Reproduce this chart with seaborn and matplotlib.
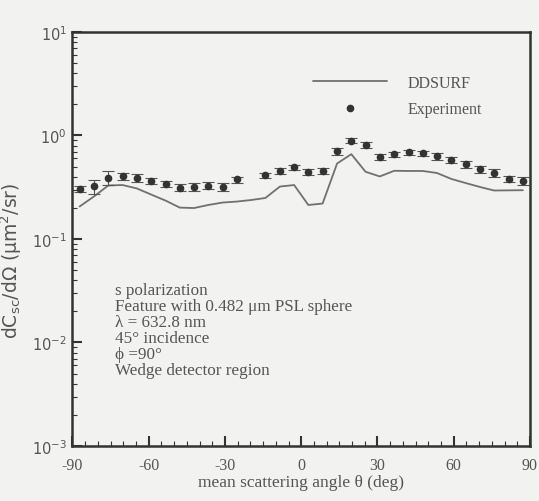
import numpy as np
import matplotlib
matplotlib.use("Agg")
import matplotlib.pyplot as plt
import seaborn as sns
from matplotlib.lines import Line2D
from matplotlib.ticker import MultipleLocator, LogLocator, NullFormatter

# Experiment: mean scattering angle (deg) and dC/dOmega (um^2/sr)
exp_angle = [-87.2, -81.6, -75.9, -70.3, -64.7, -59.1, -53.4, -47.8, -42.2, -36.6,
             -30.9, -25.3, -14.1, -8.4, -2.8, 2.8, 8.4, 14.1, 19.7, 25.3,
             30.9, 36.6, 42.2, 47.8, 53.4, 59.1, 64.7, 70.3, 75.9, 81.6, 87.2]
exp_value = [0.303, 0.324, 0.390, 0.404, 0.387, 0.365, 0.341, 0.313, 0.319, 0.327,
             0.319, 0.376, 0.413, 0.452, 0.494, 0.446, 0.456, 0.704, 0.889, 0.806,
             0.623, 0.660, 0.685, 0.670, 0.631, 0.577, 0.528, 0.472, 0.436, 0.384, 0.365]
exp_err = [0.02, 0.05, 0.06, 0.03, 0.035, 0.025, 0.025, 0.025, 0.03, 0.025,
           0.025, 0.025, 0.025, 0.03, 0.03, 0.03, 0.03, 0.06, 0.05, 0.05,
           0.04, 0.04, 0.04, 0.04, 0.05, 0.04, 0.04, 0.04, 0.035, 0.025, 0.03]

# DDSURF model curve
model_angle = [-87.2, -81.6, -75.9, -70.3, -64.7, -59.1, -53.4, -47.8, -42.2, -36.6,
               -30.9, -25.3, -19.7, -14.1, -8.4, -2.8, 2.8, 8.4, 14.1, 19.7,
               25.3, 30.9, 36.6, 42.2, 47.8, 53.4, 59.1, 64.7, 70.3, 75.9, 81.6, 87.2]
model_value = [0.206, 0.257, 0.329, 0.332, 0.308, 0.269, 0.235, 0.201, 0.199, 0.213,
               0.225, 0.230, 0.238, 0.249, 0.321, 0.332, 0.213, 0.220, 0.536, 0.660,
               0.446, 0.402, 0.456, 0.454, 0.454, 0.434, 0.380, 0.347, 0.318, 0.294, 0.295, 0.296]

notes = ["s polarization",
         "Feature with 0.482 \u03bcm PSL sphere",
         "\u03bb = 632.8 nm",
         "45\u00b0 incidence",
         "\u03d5 =90\u00b0",
         "Wedge detector region"]

sns.set_theme(style="ticks")
plt.rcParams["font.family"] = ["Liberation Serif", "DejaVu Serif"]
plt.rcParams["axes.unicode_minus"] = False

bg = "#f2f2f0"
txt = "#555555"
ink = "#333333"

fig = plt.figure(figsize=(5.39, 5.02), dpi=100, facecolor=bg)
ax = fig.add_axes([0.1345, 0.1096, 0.8488, 0.8247])
ax.set_facecolor(bg)

sns.lineplot(x=model_angle, y=model_value, ax=ax, color="#707070", linewidth=1.3)
ax.errorbar(exp_angle, exp_value, yerr=exp_err, fmt="o", color=ink, ms=4.5,
            elinewidth=0.8, capsize=4.5, capthick=0.8, ecolor="#555555")

ax.set_yscale("log")
ax.set_xlim(-90, 90)
ax.set_ylim(1e-3, 1e1)
ax.xaxis.set_major_locator(MultipleLocator(30))
ax.xaxis.set_minor_locator(MultipleLocator(5))
ax.yaxis.set_major_locator(LogLocator(base=10, numticks=10))
ax.yaxis.set_minor_locator(LogLocator(base=10, subs=np.arange(2, 10), numticks=20))
ax.yaxis.set_minor_formatter(NullFormatter())

for s in ax.spines.values():
    s.set_linewidth(1.8)
    s.set_color(ink)
ax.tick_params(which="major", direction="in", length=7, width=1.5, color=ink,
               top=False, right=False)
ax.tick_params(which="minor", direction="in", length=3.5, width=0.8, color=ink,
               top=False, right=False)
ax.tick_params(axis="x", labelsize=11.5, labelcolor=txt, pad=8)
ax.tick_params(axis="y", labelsize=10.5, labelcolor=txt, pad=4)
for lab in ax.get_yticklabels():
    lab.set_fontfamily("DejaVu Sans")

ax.set_xlabel("mean scattering angle \u03b8 (deg)", fontsize=12.5, color=txt, labelpad=1)
ax.set_ylabel("dC$_{\\mathrm{sc}}$/d\u03a9 (\u03bcm$^2$/sr)", fontsize=13.5, color=txt,
              family="DejaVu Sans")
ax.yaxis.set_label_coords(-0.105, 0.45)

ax.text(0.093, 0.395, "\n".join(notes), transform=ax.transAxes, fontsize=12.3,
        color=txt, va="top", ha="left", linespacing=1.0)

handles = [Line2D([], [], color="#707070", lw=1.3),
           Line2D([], [], color=ink, marker="o", ms=4.5, ls="none")]
ax.legend(handles, ["DDSURF", "Experiment"], loc="center left",
          bbox_to_anchor=(0.526, 0.845), frameon=False, fontsize=11.5,
          handlelength=4.6, handletextpad=1.3, labelspacing=0.65,
          borderpad=0, borderaxespad=0, labelcolor=txt)

fig.savefig("out.png", dpi=100, facecolor=bg)
